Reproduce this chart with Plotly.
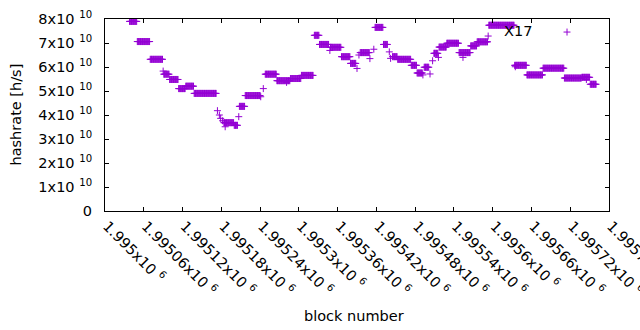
import plotly.graph_objects as go

BASE = 1995000
# runs of consecutive blocks (offset from BASE) sharing the same hashrate (x1e10 h/s)
run_start = [38, 50, 70, 90, 91, 100, 114, 125, 138, 174, 177, 179, 182, 184, 186, 200, 207, 208, 217, 241, 245,
             248, 266, 281, 287, 304, 324, 332, 348, 349, 366, 380, 390, 393, 395, 410, 416, 418, 431, 440,
             442, 445, 453, 474, 483, 492, 494, 503, 507, 509, 516, 517, 529, 548, 554, 566, 576, 593,
             594, 634, 635, 653, 678, 711, 738, 745, 751]
run_end = [49, 69, 89, 90, 99, 113, 124, 137, 172, 174, 177, 179, 182, 199, 186, 205, 207, 216, 240, 241, 245,
           265, 286, 281, 303, 322, 331, 346, 348, 365, 379, 388, 390, 393, 409, 410, 416, 430, 437, 440,
           442, 452, 473, 482, 491, 492, 501, 503, 507, 515, 516, 528, 547, 565, 554, 575, 592, 593,
           633, 652, 635, 677, 710, 737, 750, 745, 760]
run_value = [7.90, 7.06, 6.32, 5.83, 5.70, 5.48, 5.10, 5.20, 4.90, 4.18, 4.00, 3.86, 3.76, 3.68, 3.51, 3.57, 3.93, 4.36, 4.81, 4.76, 5.10,
             5.70, 5.43, 5.36, 5.52, 5.65, 7.32, 6.94, 6.69, 6.82, 6.43, 6.15, 5.94, 6.50, 6.60, 6.35, 6.74, 7.65, 6.94, 6.63,
             6.36, 6.43, 6.32, 6.07, 5.75, 5.67, 5.99, 5.71, 6.26, 6.57, 6.40, 6.83, 6.99, 6.60, 6.40, 6.88, 7.05, 7.29,
             7.74, 6.07, 6.01, 5.67, 5.95, 5.54, 5.57, 5.48, 5.28]

x_tick_vals = [BASE + 60 * i for i in range(14)]
x_tick_text = ["1.995", "1.99506", "1.99512", "1.99518", "1.99524", "1.9953", "1.99536", "1.99542",
               "1.99548", "1.99554", "1.9956", "1.99566", "1.99572", "1.99578"]
y_tick_mant = [0, 1, 2, 3, 4, 5, 6, 7, 8]

blocks, rates = [], []
for s, e, v in zip(run_start, run_end, run_value):
    for b in range(s, e + 1):
        blocks.append(BASE + b)
        rates.append(v * 1e10)

PURPLE = "#9400D3"
FONT = "DejaVu Sans"
NB = "\u00a0"

fig = go.Figure()
fig.add_trace(go.Scatter(
    x=blocks, y=rates, mode="markers", name="X17",
    marker=dict(symbol="cross-thin", size=5, color=PURPLE, line=dict(color=PURPLE, width=1)),
    showlegend=False, hoverinfo="skip"))

y_text = ["0"] + [f"{m}x10{NB}<sup>10</sup>" for m in y_tick_mant[1:]]
fig.update_layout(
    width=640, height=330,
    margin=dict(l=105, r=31, t=19, b=119),
    paper_bgcolor="white", plot_bgcolor="white",
    font=dict(family=FONT, size=14.5, color="black"),
    xaxis=dict(range=[BASE, BASE + 780], tickvals=x_tick_vals,
               ticktext=[t + f"x10{NB}<sup>6</sup>" for t in x_tick_text],
               tickangle=45, ticks="inside", ticklen=4, tickcolor="black",
               ticklabeloverflow="allow", ticklabelshift=2,
               showline=True, linecolor="black", linewidth=1, mirror="ticks",
               showgrid=False, zeroline=False, automargin=False),
    yaxis=dict(range=[0, 8e10], tickvals=[m * 1e10 for m in y_tick_mant], ticktext=y_text,
               ticks="inside", ticklen=4, tickcolor="black", ticklabelstandoff=9,
               showline=True, linecolor="black", linewidth=1, mirror="ticks",
               showgrid=False, zeroline=False, automargin=False),
    annotations=[
        dict(text="block number", xref="paper", yref="paper", x=0.495, y=-0.547,
             showarrow=False, xanchor="center", yanchor="middle"),
        dict(text="hashrate [h/s]", xref="paper", yref="paper", x=-0.1756, y=0.505, textangle=-90,
             showarrow=False, xanchor="center", yanchor="middle"),
        dict(text="X17", xref="paper", yref="paper", x=0.851, y=0.9375,
             showarrow=False, xanchor="right", yanchor="middle"),
    ],
    shapes=[
        dict(type="line", xref="paper", yref="paper", x0=0.9167 - 0.0069, x1=0.9167 + 0.0069,
             y0=0.932, y1=0.932, line=dict(color=PURPLE, width=1)),
        dict(type="line", xref="paper", yref="paper", x0=0.9167, x1=0.9167,
             y0=0.932 - 0.0182, y1=0.932 + 0.0182, line=dict(color=PURPLE, width=1)),
    ],
)
fig.write_html("out.html", config={"displayModeBar": False},
               post_script="document.body.style.margin='0';document.body.style.padding='0';")
